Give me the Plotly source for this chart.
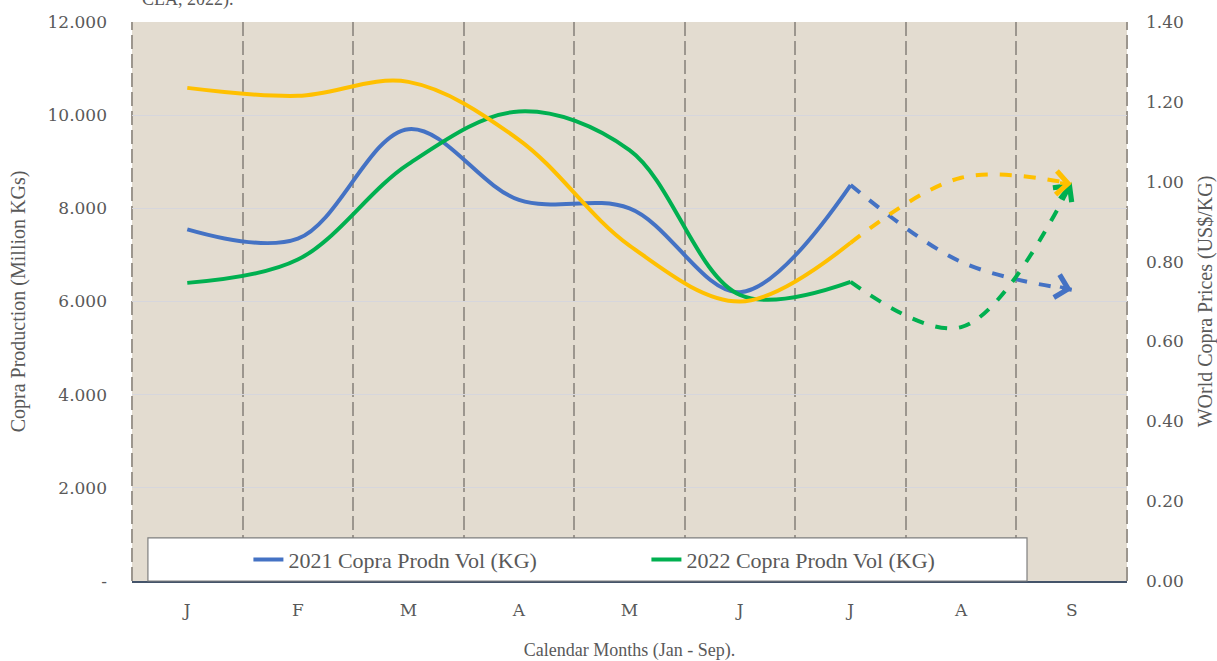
import plotly.graph_objects as go

months = ["J", "F", "M", "A", "M", "J", "J", "A", "S"]
prod_2021 = [7.55, 7.35, 9.70, 8.18, 8.00, 6.20, 8.50, 6.85, 6.25]
prod_2022 = [6.40, 6.90, 8.95, 10.08, 9.25, 6.14, 6.42, 5.45, 8.55]
price = [1.235, 1.215, 1.25, 1.105, 0.84, 0.70, 0.847, 1.01, 0.995]
left_ticks = [0, 2, 4, 6, 8, 10, 12]
left_ticktext = ["-", "2.000", "4.000", "6.000", "8.000", "10.000", "12.000"]

BLUE = "#4472C4"
GREEN = "#00B050"
YELLOW = "#FFC000"
TXT = "#595959"
GRID_V = "#9C968E"
SERIF = "Liberation Serif"
TICKF = "DejaVu Serif"

x = list(range(len(months)))
split = 6  # last solid index (second "J")

fig = go.Figure()
arrows = []


def add_series(vals, color, name, yaxis, show):
    fig.add_trace(go.Scatter(
        x=x[:split + 1], y=vals[:split + 1], mode="lines", name=name,
        line=dict(color=color, width=4, shape="spline", smoothing=1.0),
        yaxis=yaxis, showlegend=show, hoverinfo="skip"))
    fig.add_trace(go.Scatter(
        x=x[split:], y=vals[split:], mode="lines",
        line=dict(color=color, width=4, shape="spline", smoothing=1.0, dash="dash"),
        yaxis=yaxis, showlegend=False, hoverinfo="skip"))
    # arrowhead at the end, oriented along the last segment
    f = 0.12
    yref = "y2" if yaxis == "y2" else "y"
    arrows.append(dict(
        x=x[-1], y=vals[-1], xref="x", yref=yref,
        ax=x[-1] - f * (x[-1] - x[-2]), ay=vals[-1] - f * (vals[-1] - vals[-2]),
        axref="x", ayref=yref, showarrow=True, arrowhead=4, arrowsize=1.3,
        arrowwidth=3.5, arrowcolor=color, standoff=0, text=""))


add_series(prod_2021, BLUE, "2021 Copra Prodn Vol (KG)", "y", True)
add_series(prod_2022, GREEN, "2022 Copra Prodn Vol (KG)", "y", True)
add_series(price, YELLOW, "World Copra Prices", "y2", False)

fig.update_layout(
    width=1217, height=661,
    margin=dict(l=132, r=90, t=22, b=80, autoexpand=False),
    paper_bgcolor="white",
    plot_bgcolor="#E3DCD0",
    font=dict(family=SERIF, color=TXT),
    showlegend=True,
    legend=dict(orientation="h", x=0.117, xanchor="left", y=0.038, yanchor="middle",
                bgcolor="rgba(0,0,0,0)", borderwidth=0,
                entrywidth=353, entrywidthmode="pixels",
                font=dict(family=SERIF, size=22, color=TXT),
                itemwidth=30, tracegroupgap=0),
    xaxis=dict(range=[-0.5, 8.5], tickvals=x, ticktext=months, automargin=False,
               tickfont=dict(family=TICKF, size=17, color=TXT),
               showgrid=False, zeroline=False, ticks="", ticklen=0, ticklabelstandoff=13,
               showline=True, linecolor="#44546A", linewidth=2,
               minor=dict(tick0=0.5, dtick=1, showgrid=True, gridcolor=GRID_V,
                          griddash="14px,5px", gridwidth=2),
               title=dict(text="Calendar Months (Jan - Sep).",
                          font=dict(family=SERIF, size=18, color=TXT), standoff=25)),
    yaxis=dict(range=[0, 12], tickvals=left_ticks, ticktext=left_ticktext, automargin=False,
               tickfont=dict(family=TICKF, size=17, color=TXT),
               showgrid=True, gridcolor="#D6D6DC", gridwidth=1, zeroline=False,
               ticks="", ticklabelstandoff=24,
               title=dict(text="Copra Production (Million KGs)",
                          font=dict(family=SERIF, size=20, color=TXT), standoff=16)),
    yaxis2=dict(range=[0, 1.4], dtick=0.2, tickformat=".2f", overlaying="y", side="right",
                automargin=False,
                tickfont=dict(family=TICKF, size=17, color=TXT),
                showgrid=False, zeroline=False, ticks="", ticklabelstandoff=18,
                title=dict(text="WOrld Copra Prices (US$/KG)",
                           font=dict(family=SERIF, size=20, color=TXT), standoff=18)),
    shapes=[
        dict(type="line", xref="paper", yref="paper", x0=0, x1=0, y0=0, y1=1,
             line=dict(color=GRID_V, width=2, dash="14px,5px"), layer="below"),
        dict(type="line", xref="paper", yref="paper", x0=1, x1=1, y0=0, y1=1,
             line=dict(color=GRID_V, width=2, dash="14px,5px"), layer="below"),
        dict(type="rect", xref="paper", yref="paper", x0=0.016, x1=0.8995,
             y0=0.0, y1=0.077, fillcolor="white",
             line=dict(color="#7F7F7F", width=1.2), layer="above"),
    ],
    annotations=arrows + [
        dict(text="CLA, 2022).", xref="paper", yref="paper", x=0.008, y=1,
             xanchor="left", yanchor="bottom", yshift=10, showarrow=False,
             font=dict(family=SERIF, size=18, color=TXT)),
    ],
)

fig.write_html("out.html", config={"displayModeBar": False},
               post_script="document.body.style.margin='0';document.body.style.overflow='hidden';")
